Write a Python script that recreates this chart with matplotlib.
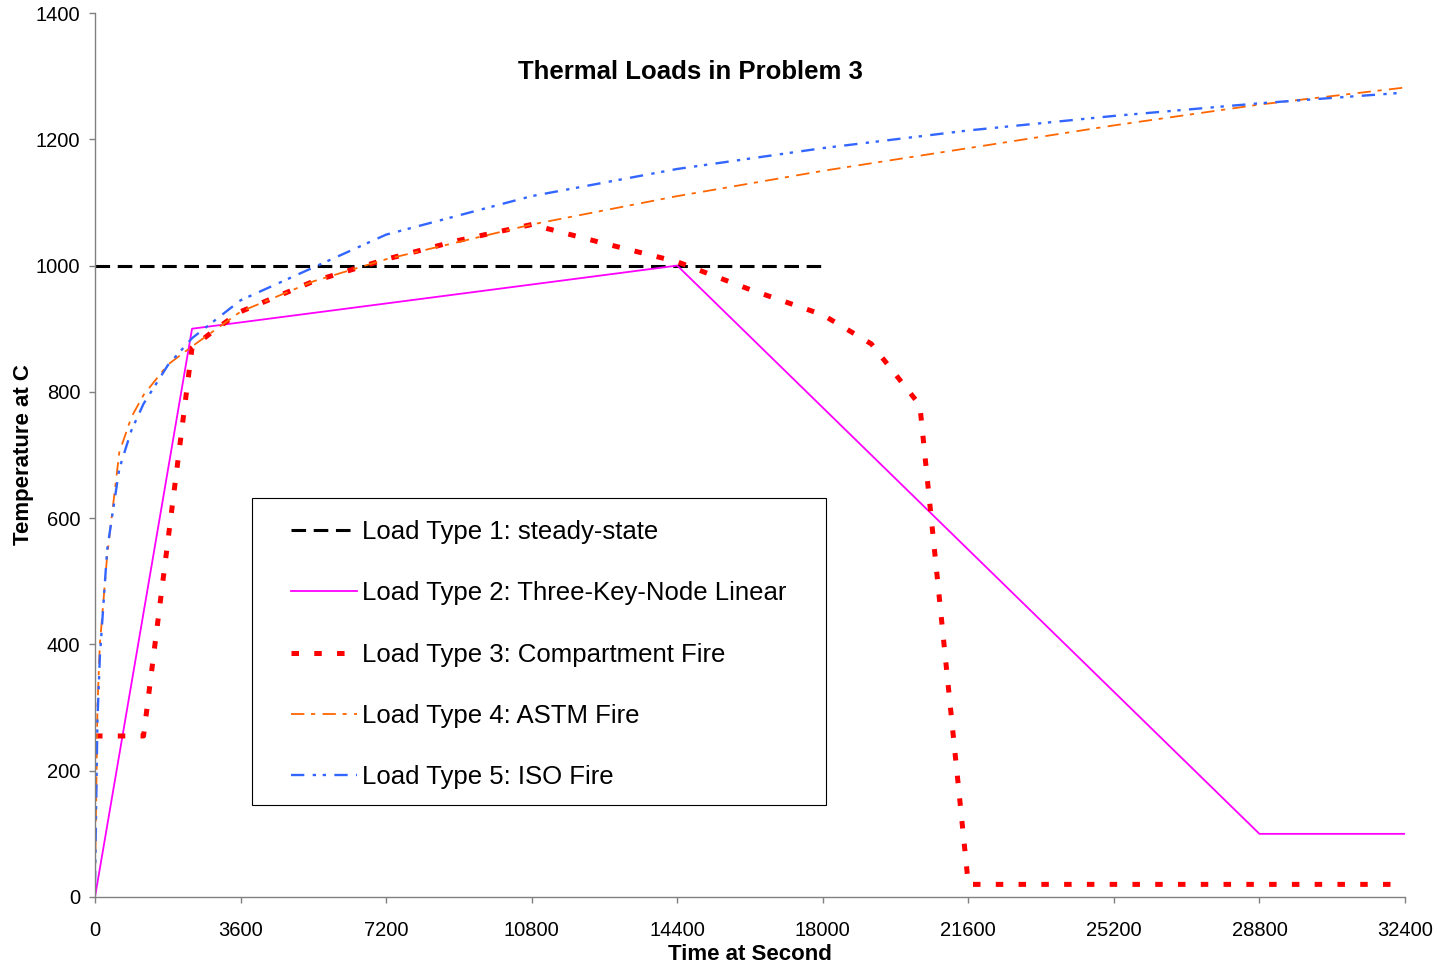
import matplotlib
matplotlib.use("Agg")
import matplotlib.pyplot as plt
from matplotlib.patches import Rectangle

plt.rcParams['font.family'] = ['Liberation Sans', 'DejaVu Sans']
plt.rcParams['lines.scale_dashes'] = False

# ---------------- data ----------------
steady_t = [0, 18000]
steady_T = [1000, 1000]

linear_t = [0, 2400, 14400, 28800, 32400]
linear_T = [0, 900, 1000, 100, 100]

comp_t = [0, 1200, 2400, 3000, 3600, 5400, 7200, 9000, 10800, 12600, 14400,
          16200, 18000, 19200, 20400, 21600, 32400]
comp_T = [255, 255, 870, 900, 927, 975, 1010, 1040, 1065, 1035, 1006,
          962, 922, 876, 779, 20, 20]

astm_t = [0, 60, 120, 300, 600, 900, 1200, 1800, 2400, 3600, 5400, 7200,
          10800, 14400, 18000, 21600, 25200, 28800, 32400]
astm_T = [20, 300, 400, 540, 704, 760, 795, 843, 872, 927, 975, 1010,
          1065, 1110, 1150, 1186, 1222, 1255, 1282]

iso_t = [0, 60, 120, 300, 600, 900, 1200, 1800, 2400, 3600, 7200, 10800,
         14400, 18000, 21600, 25200, 28800, 32400]
iso_T = [20, 280, 380, 550, 678, 739, 781, 842, 885, 945, 1049, 1110,
         1153, 1186, 1214, 1237, 1257, 1274]

labels = ["Load Type 1: steady-state",
          "Load Type 2: Three-Key-Node Linear",
          "Load Type 3: Compartment Fire",
          "Load Type 4: ASTM Fire",
          "Load Type 5: ISO Fire"]

x_ticks = [0, 3600, 7200, 10800, 14400, 18000, 21600, 25200, 28800, 32400]
y_ticks = [0, 200, 400, 600, 800, 1000, 1200, 1400]

title = "Thermal Loads in Problem 3"
xlabel = "Time at Second"
ylabel = "Temperature at C"

# ---------------- figure ----------------
W, H = 1438, 964
fig = plt.figure(figsize=(W / 100, H / 100), dpi=100)
ax = fig.add_axes([95 / W, 1 - 897 / H, 1310 / W, 884 / H])

h1, = ax.plot(steady_t, steady_T, color='black', lw=2.2,
              dashes=(10.5, 5.5), label=labels[0])
h2, = ax.plot(linear_t, linear_T, color='#FF00FF', lw=1.3, label=labels[1])
h3, = ax.plot(comp_t, comp_T, color='#FF0000', lw=3.6,
              dashes=(5.4, 11.0), label=labels[2])
h4, = ax.plot(astm_t, astm_T, color='#FF6600', lw=1.3,
              dashes=(9.6, 4.8, 3.0, 5.3), label=labels[3])
h5, = ax.plot(iso_t, iso_T, color='#3366FF', lw=1.7,
              dashes=(9.6, 6.0, 2.4, 4.8, 2.4, 6.0), label=labels[4])

ax.set_xlim(0, 32400)
ax.set_ylim(0, 1400)
ax.set_xticks(x_ticks)
ax.set_yticks(y_ticks)
ax.set_xticklabels([str(v) for v in x_ticks])
ax.set_yticklabels([str(v) for v in y_ticks])

for s in ['top', 'right']:
    ax.spines[s].set_visible(False)
for s in ['left', 'bottom']:
    ax.spines[s].set_color('#808080')
    ax.spines[s].set_linewidth(1.0)

ax.tick_params(axis='both', direction='out', length=4.5, width=1.0,
               color='#808080', labelsize=14.5, labelcolor='black')
ax.tick_params(axis='x', pad=13)
ax.tick_params(axis='y', pad=6)

ax.set_xlabel(xlabel, fontsize=16, fontweight='bold', labelpad=2.5)
ax.set_ylabel(ylabel, fontsize=16, fontweight='bold', labelpad=1.5)

fig.text(690 / W, 1 - 72 / H, title, fontsize=18.5, fontweight='bold',
         ha='center', va='center')

# legend frame
fig.patches.append(Rectangle((252 / W, 1 - 805 / H), (826 - 252) / W,
                             (805 - 498) / H, transform=fig.transFigure,
                             fill=False, edgecolor='black', lw=0.8))
leg = fig.legend(handles=[h1, h2, h3, h4, h5], loc='upper left',
                 bbox_to_anchor=(291 / W, 1 - 520 / H), frameon=False,
                 borderpad=0, borderaxespad=0, fontsize=18.5,
                 handlelength=2.57, handletextpad=0.2, labelspacing=1.45)

fig.savefig("out.png", dpi=100)
